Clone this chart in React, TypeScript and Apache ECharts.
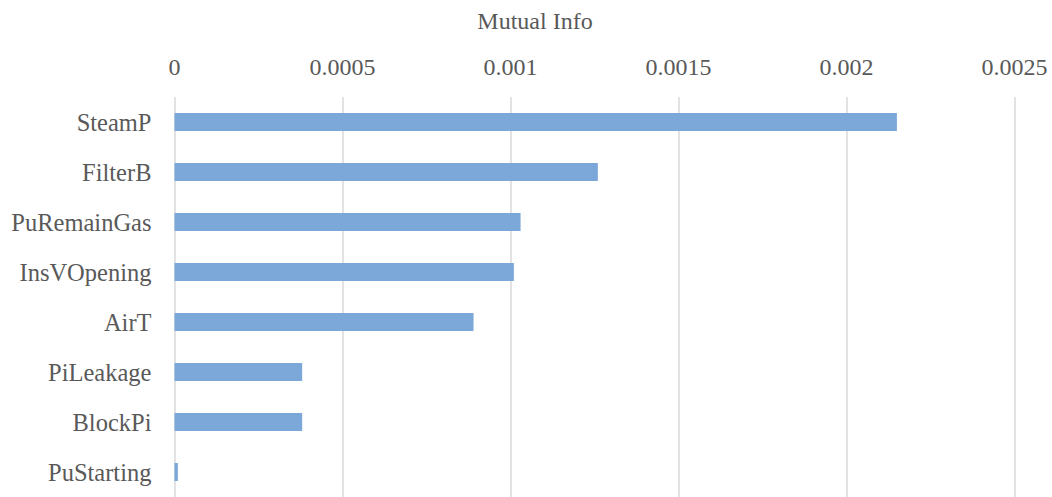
import React, { useEffect, useRef } from "react";
import * as echarts from "echarts";

const categories = ["SteamP", "FilterB", "PuRemainGas", "InsVOpening", "AirT", "PiLeakage", "BlockPi", "PuStarting"];
const values = [0.00215, 0.00126, 0.00103, 0.00101, 0.00089, 0.00038, 0.00038, 0.00001];
const axisMin = 0;
const axisMax = 0.0025;
const axisStep = 0.0005;
const axisTitle = "Mutual Info";

const FONT = "Liberation Serif";

export default function App() {
  const ref = useRef<HTMLDivElement>(null);
  useEffect(() => {
    if (!ref.current) return;
    const chart = echarts.init(ref.current, undefined, { renderer: "svg" });
    chart.setOption({
      animation: false,
      textStyle: { fontFamily: FONT },
      grid: { left: 174.5, right: 37.5, top: 97, height: 402, containLabel: false },
      graphic: [
        {
          type: "text",
          x: 535,
          y: 21,
          style: {
            text: axisTitle,
            fontFamily: FONT,
            fontSize: 24,
            fill: "#595959",
            textAlign: "center",
            textVerticalAlign: "middle",
          },
        },
      ],
      xAxis: {
        type: "value",
        position: "top",
        min: axisMin,
        max: axisMax,
        interval: axisStep,
        axisLine: { show: false },
        axisTick: { show: false },
        splitLine: { show: true, lineStyle: { color: "#d9d9d9", width: 1.5 } },
        axisLabel: {
          fontFamily: FONT,
          fontSize: 24,
          color: "#595959",
          margin: 18,
          formatter: (v: number) => String(+v.toFixed(4)),
        },
      },
      yAxis: {
        type: "category",
        inverse: true,
        data: categories,
        axisLine: { show: false },
        axisTick: { show: false },
        splitLine: { show: false },
        axisLabel: {
          fontFamily: FONT,
          fontSize: 24.5,
          color: "#595959",
          margin: 23,
        },
      },
      series: [
        {
          type: "bar",
          data: values,
          barWidth: 18,
          itemStyle: { color: "#7BA7D9" },
        },
      ],
    });
    return () => chart.dispose();
  }, []);
  return (
    <div
      ref={ref}
      style={{ position: "fixed", left: 0, top: 0, width: 1052, height: 497, background: "#fff" }}
    />
  );
}
